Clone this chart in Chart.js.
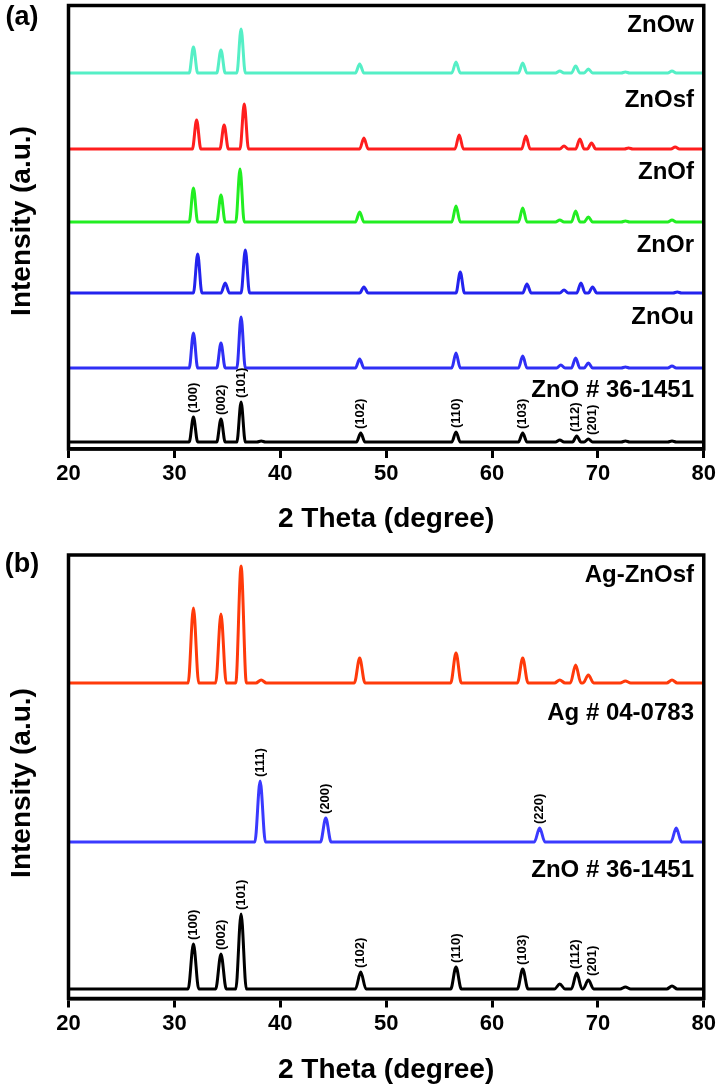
<!DOCTYPE html>
<html><head><meta charset="utf-8">
<script src="https://cdn.jsdelivr.net/npm/chart.js@4/dist/chart.umd.min.js"></script>
<style>
html,body{margin:0;padding:0;background:#fff;width:719px;height:1088px;overflow:hidden}
canvas{position:absolute;left:0}
#ca{top:0}#cb{top:544px}
</style></head><body>
<canvas id="ca" width="719" height="544"></canvas>
<canvas id="cb" width="719" height="544"></canvas>
<script>
// ---------- data (peak position in 2θ, peak height above its baseline) ----------
const xTicks = [20, 30, 40, 50, 60, 70, 80];

// Panel (a)
const namesA   = ['ZnOw', 'ZnOsf', 'ZnOf', 'ZnOr', 'ZnOu', 'ZnO # 36-1451'];
const offsetsA = [376, 300, 227, 156, 81, 7];
const znow  = [[31.8,26],[34.4,23],[36.3,44],[47.5,9],[56.6,11],[62.9,10],[66.4,2],[67.9,7],[69.1,4],[72.6,1],[77.0,2]];
const znosf = [[32.1,29],[34.7,24],[36.6,45],[47.9,11],[56.9,14],[63.2,13],[66.8,3],[68.3,10],[69.4,6],[72.9,1],[77.3,2]];
const znof  = [[31.8,34],[34.4,27],[36.2,53],[47.5,10],[56.6,16],[62.9,14],[66.4,2],[67.9,11],[69.1,5],[72.6,1],[77.0,2]];
const znor  = [[32.2,39],[34.8,10],[36.7,43],[47.9,6],[57.0,21],[63.3,9],[66.8,3],[68.4,10],[69.5,6],[77.5,1]];
const znou  = [[31.8,35],[34.4,25],[36.3,51],[47.5,9],[56.6,15],[62.9,12],[66.5,3],[67.9,10],[69.1,5],[72.6,1],[77.0,2]];
const znoRefA = [[31.8,25],[34.4,23],[36.3,40],[38.2,1],[47.6,9],[56.6,10],[62.9,9],[66.4,2],[68.0,6],[69.1,3],[72.6,1],[77.0,1]];
const hklA = [['(100)',31.8,25],['(002)',34.4,23],['(101)',36.3,40],['(102)',47.6,9],['(110)',56.6,10],['(103)',62.9,9],['(112)',67.9,6],['(201)',69.5,3]];

// Panel (b)
const namesB   = ['Ag-ZnOsf', 'Ag # 04-0783', 'ZnO # 36-1451'];
const offsetsB = [315.5, 156.5, 9.5];
const agzno   = [[31.8,75],[34.4,69],[36.3,117],[38.2,3],[47.5,25],[56.6,30],[62.9,25],[66.4,3],[67.9,18],[69.1,8],[72.6,2],[77.0,3]];
const agRef   = [[38.1,61],[44.3,24],[64.5,14],[77.4,14]];
const znoRefB = [[31.8,45],[34.4,35],[36.3,75],[47.6,17],[56.6,22],[62.9,20],[66.4,5],[68.0,16],[69.1,9],[72.6,2],[77.0,3]];
const hklZnoB = [['(100)',31.8,45],['(002)',34.4,35],['(101)',36.3,75],['(102)',47.6,17],['(110)',56.6,22],['(103)',62.9,20],['(112)',67.9,16],['(201)',69.5,9]];
const hklAgB  = [['(111)',38.1,61],['(200)',44.3,24],['(220)',64.5,14]];

// ---------- styling ----------
const colorsA = ['#55efc6', '#ff1e1e', '#22ee22', '#2323ee', '#2f2ff5', '#000000'];
const colorsB = ['#ff3a0a', '#3a3aff', '#000000'];
const FONT = "'Liberation Sans', Arial, sans-serif";

function toPoints(peaks, offset, halfBase) {
  const pts = [{x: 20, y: offset}];
  peaks.forEach(([p, h]) => {
    pts.push({x: p - halfBase, y: offset});
    pts.push({x: p, y: offset + h});
    pts.push({x: p + halfBase, y: offset});
  });
  pts.push({x: 80, y: offset});
  return pts;
}

function makeChart(id, cfg) {
  const datasets = cfg.series.map((pk, i) => ({
    data: toPoints(pk, cfg.offsets[i], cfg.halfBase[i]),
    borderColor: cfg.colors[i],
    borderWidth: 3,
    pointRadius: 0,
    cubicInterpolationMode: 'monotone',
    fill: false
  }));
  const deco = {
    id: 'deco',
    afterDraw(chart) {
      const ctx = chart.ctx, a = chart.chartArea;
      const xs = chart.scales.x, ys = chart.scales.y;
      ctx.save();
      ctx.strokeStyle = '#000';
      ctx.lineWidth = 3.5;
      ctx.strokeRect(a.left, a.top, a.right - a.left, a.bottom - a.top);
      ctx.fillStyle = '#000';
      // panel letter
      ctx.font = 'bold 27px ' + FONT;
      ctx.textAlign = 'center'; ctx.textBaseline = 'middle';
      ctx.fillText(cfg.panel, 22, cfg.panelY);
      // x title
      ctx.font = 'bold 28px ' + FONT;
      ctx.fillText('2 Theta (degree)', (a.left + a.right) / 2, cfg.xTitleY);
      // y title
      ctx.save();
      ctx.translate(22, cfg.yTitleY);
      ctx.rotate(-Math.PI / 2);
      ctx.fillText('Intensity (a.u.)', 0, 0);
      ctx.restore();
      // series names
      ctx.font = 'bold 24px ' + FONT;
      ctx.textAlign = 'right';
      cfg.names.forEach((n, i) => ctx.fillText(n, 694, cfg.nameY[i]));
      // hkl labels
      ctx.font = 'bold 13px ' + FONT;
      ctx.textAlign = 'left';
      cfg.hkl.forEach(([lst, off]) => {
        lst.forEach(([t, x, h]) => {
          ctx.save();
          ctx.translate(xs.getPixelForValue(x), ys.getPixelForValue(off + h) - 4);
          ctx.rotate(-Math.PI / 2);
          ctx.fillText(t, 0, 0);
          ctx.restore();
        });
      });
      ctx.restore();
    }
  };
  return new Chart(document.getElementById(id), {
    type: 'line',
    data: {datasets},
    options: {
      responsive: false, animation: false,
      layout: {padding: {left: 68.5, right: 15, top: cfg.top, bottom: 0}},
      plugins: {legend: {display: false}, tooltip: {enabled: false}},
      scales: {
        x: {
          type: 'linear', min: 20, max: 80,
          afterBuildTicks: s => { s.ticks = xTicks.map(v => ({value: v})); },
          afterFit: s => { s.height = cfg.axisH; },
          ticks: {color: '#000', font: {family: FONT, size: 22, weight: 'bold'}, padding: 3, maxRotation: 0},
          grid: {drawOnChartArea: false, drawTicks: true, tickLength: 9, tickWidth: 3, tickColor: '#000', color: '#000', lineWidth: 3},
          border: {display: true, color: '#000', width: 3.5}
        },
        y: {type: 'linear', min: 0, max: 443.5, display: false}
      }
    },
    plugins: [deco]
  });
}

makeChart('ca', {
  series: [znow, znosf, znof, znor, znou, znoRefA],
  offsets: offsetsA, colors: colorsA,
  halfBase: [0.4, 0.4, 0.4, 0.4, 0.4, 0.4],
  names: namesA, nameY: [25, 100, 172, 245, 317, 390],
  hkl: [[hklA, offsetsA[5]]],
  panel: '(a)', panelY: 18, xTitleY: 519, yTitleY: 221,
  top: 5.5, axisH: 95
});
makeChart('cb', {
  series: [agzno, agRef, znoRefB],
  offsets: offsetsB, colors: colorsB,
  halfBase: [0.5, 0.5, 0.5],
  names: namesB, nameY: [31, 169, 326],
  hkl: [[hklZnoB, offsetsB[2]], [hklAgB, offsetsB[1]]],
  panel: '(b)', panelY: 21, xTitleY: 526, yTitleY: 239,
  top: 11, axisH: 89.5
});
</script>
</body></html>
